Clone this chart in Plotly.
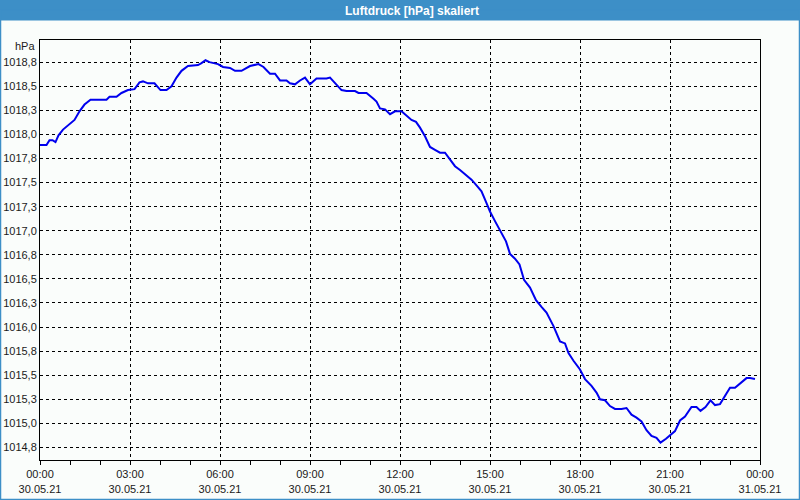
import plotly.graph_objects as go
from decimal import Decimal, ROUND_HALF_UP

# ---- data ----
times = [
    "00:00", "00:13", "00:19", "00:25", "00:31", "00:37", "00:46", "00:56", "01:09", "01:19",
    "01:29", "01:41", "02:13", "02:19", "02:33", "02:43", "02:56", "03:09", "03:19", "03:26",
    "03:36", "03:49", "04:01", "04:13", "04:23", "04:33", "04:43", "04:56", "05:16", "05:23",
    "05:31", "05:39", "05:56", "06:06", "06:20", "06:30", "06:43", "07:00", "07:17", "07:27",
    "07:40", "07:50", "08:00", "08:13", "08:20", "08:30", "08:40", "08:50", "09:00", "09:13",
    "09:33", "09:40", "09:50", "10:03", "10:13", "10:30", "10:37", "10:53", "11:07", "11:13",
    "11:20", "11:30", "11:40", "11:50", "12:03", "12:13", "12:23", "12:32", "12:40", "12:50",
    "13:00", "13:10", "13:20", "13:30", "13:40", "13:50", "14:00", "14:13", "14:23", "14:33",
    "14:43", "14:52", "15:00", "15:10", "15:20", "15:32", "15:40", "15:50", "15:59", "16:08",
    "16:20", "16:32", "16:43", "16:53", "17:07", "17:20", "17:30", "17:37", "17:47", "18:00",
    "18:10", "18:23", "18:33", "18:40", "18:50", "19:00", "19:10", "19:23", "19:33", "19:43",
    "19:53", "20:03", "20:13", "20:23", "20:33", "20:41", "20:52", "21:03", "21:10", "21:20",
    "21:30", "21:43", "21:53", "22:01", "22:11", "22:21", "22:30", "22:40", "22:50", "23:00",
    "23:10", "23:20", "23:33", "23:40", "23:50",
]
pressure = [
    1017.89, 1017.89, 1017.94, 1017.94, 1017.92, 1017.99, 1018.05, 1018.09, 1018.15, 1018.24,
    1018.31, 1018.36, 1018.36, 1018.39, 1018.39, 1018.43, 1018.46, 1018.47, 1018.54, 1018.55,
    1018.53, 1018.53, 1018.46, 1018.46, 1018.50, 1018.59, 1018.66, 1018.71, 1018.72, 1018.74,
    1018.77, 1018.75, 1018.73, 1018.70, 1018.69, 1018.66, 1018.66, 1018.71, 1018.73, 1018.70,
    1018.63, 1018.63, 1018.56, 1018.56, 1018.53, 1018.52, 1018.56, 1018.59, 1018.52, 1018.58,
    1018.58, 1018.59, 1018.53, 1018.46, 1018.45, 1018.45, 1018.43, 1018.43, 1018.37, 1018.34,
    1018.27, 1018.26, 1018.21, 1018.24, 1018.24, 1018.19, 1018.15, 1018.13, 1018.07, 1017.98,
    1017.87, 1017.84, 1017.81, 1017.81, 1017.74, 1017.67, 1017.63, 1017.57, 1017.53, 1017.47,
    1017.41, 1017.30, 1017.20, 1017.10, 1017.01, 1016.89, 1016.76, 1016.71, 1016.65, 1016.49,
    1016.41, 1016.28, 1016.21, 1016.15, 1016.01, 1015.85, 1015.83, 1015.73, 1015.65, 1015.56,
    1015.46, 1015.39, 1015.32, 1015.25, 1015.24, 1015.18, 1015.15, 1015.15, 1015.16, 1015.09,
    1015.06, 1015.02, 1014.93, 1014.87, 1014.85, 1014.80, 1014.84, 1014.89, 1014.92, 1015.03,
    1015.07, 1015.17, 1015.17, 1015.13, 1015.17, 1015.24, 1015.19, 1015.20, 1015.28, 1015.37,
    1015.37, 1015.41, 1015.47, 1015.47, 1015.46,
]
x_tick_times = ["2021-05-30 00:00", "2021-05-30 03:00", "2021-05-30 06:00", "2021-05-30 09:00",
                "2021-05-30 12:00", "2021-05-30 15:00", "2021-05-30 18:00", "2021-05-30 21:00",
                "2021-05-31 00:00"]
x_tick_text = ["00:00<br>30.05.21", "03:00<br>30.05.21", "06:00<br>30.05.21", "09:00<br>30.05.21",
               "12:00<br>30.05.21", "15:00<br>30.05.21", "18:00<br>30.05.21", "21:00<br>30.05.21",
               "00:00<br>31.05.21"]
y_tick_vals = [1014.75, 1015.0, 1015.25, 1015.5, 1015.75, 1016.0, 1016.25, 1016.5, 1016.75,
               1017.0, 1017.25, 1017.5, 1017.75, 1018.0, 1018.25, 1018.5, 1018.75]
title_text = "Luftdruck [hPa] skaliert"
unit_text = "hPa"

y_tick_text = [str(Decimal(str(v)).quantize(Decimal("0.1"), rounding=ROUND_HALF_UP)).replace(".", ",")
               for v in y_tick_vals]
x_vals = ["2021-05-30 " + t for t in times]

BG = "#fafdfb"
BLUE = "#3d8fc7"
FONT = "Liberation Sans, Arial, sans-serif"

fig = go.Figure()
fig.add_trace(go.Scatter(x=x_vals, y=pressure, mode="lines",
                         line=dict(color="#0000ee", width=2), hoverinfo="skip"))

L, R, T, B = 40, 40, 40, 40
W, H = 800, 500
pw, ph = W - L - R, H - T - B


def px(xp):
    return (xp - L) / pw


def py(yp):
    return (H - B - yp) / ph


fig.update_layout(
    width=W, height=H,
    margin=dict(l=L, r=R, t=T, b=B, autoexpand=False),
    paper_bgcolor=BG, plot_bgcolor=BG,
    showlegend=False,
    separators=",.",
    font=dict(family=FONT, size=11, color="#1a1a1a"),
    xaxis=dict(
        type="date",
        automargin=False,
        range=["2021-05-30 00:00", "2021-05-31 00:00"],
        tickvals=x_tick_times, ticktext=x_tick_text,
        ticks="outside", ticklen=4, tickcolor="black", tickwidth=1,
        showgrid=True, gridcolor="black", gridwidth=1, griddash="3px,3px",
        showline=True, linecolor="black", linewidth=1, mirror=True,
        zeroline=False,
        minor=dict(ticks="outside", ticklen=4, tickcolor="black", dtick=3600000,
                   tick0="2021-05-30 00:00", showgrid=False),
        tickfont=dict(family=FONT, size=11, color="#1a1a1a"),
    ),
    yaxis=dict(
        automargin=False,
        range=[1014.62, 1018.98],
        tickvals=y_tick_vals, ticktext=y_tick_text,
        ticks="",
        showgrid=True, gridcolor="black", gridwidth=1, griddash="3px,3px",
        showline=True, linecolor="black", linewidth=1, mirror=True,
        zeroline=False,
        tickfont=dict(family=FONT, size=11, color="#1a1a1a"),
    ),
    shapes=[
        dict(type="rect", xref="paper", yref="paper",
             x0=px(0), x1=px(800), y0=py(20.5), y1=py(0),
             fillcolor=BLUE, line=dict(width=0), layer="above"),
        dict(type="rect", xref="paper", yref="paper",
             x0=px(0.5), x1=px(799.5), y0=py(499.5), y1=py(10),
             fillcolor="rgba(0,0,0,0)", line=dict(color=BLUE, width=1.5), layer="above"),
    ],
    annotations=[
        dict(text="<b>" + title_text + "</b>", xref="paper", yref="paper",
             x=px(412), y=py(10.5), xanchor="center", yanchor="middle", showarrow=False,
             font=dict(family=FONT, size=12, color="white")),
        dict(text=unit_text, xref="paper", yref="paper",
             x=px(37), y=py(46), xanchor="right", yanchor="middle", showarrow=False,
             font=dict(family=FONT, size=11, color="#1a1a1a")),
    ],
)

fig.write_html("out.html")
